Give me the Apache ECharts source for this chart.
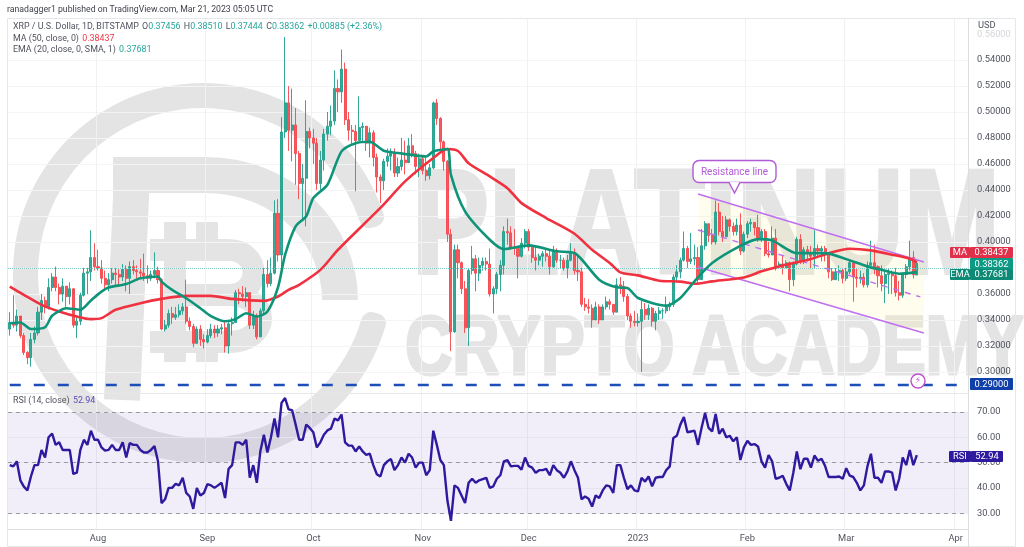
<!DOCTYPE html>
<html><head><meta charset="utf-8">
<style>html,body{margin:0;padding:0;background:#fff}#c{width:1024px;height:547px}</style>
<script src="https://cdn.jsdelivr.net/npm/echarts@6/dist/echarts.min.js"></script>
</head><body><div id="c"></div>
<script>
// Daily candles from 2022-07-07
const firstOpen = 0.333;
const closes = [
.338,.336,.343,.328,.315,.311,.325,.330,.346,.355,
.350,.365,.373,.365,.360,.366,.358,.364,.336,.339,
.359,.376,.377,.388,.381,.380,.372,.367,.371,.376,
.375,.373,.379,.372,.381,.378,.377,.376,.374,.372,
.375,.378,.371,.333,.336,.345,.342,.344,.347,.350,
.339,.335,.322,.333,.325,.323,.328,.333,.330,.333,
.334,.320,.337,.338,.361,.360,.358,.361,.336,.343,
.327,.347,.375,.368,.376,.422,.390,.4846,.507,.486,
.490,.468,.445,.449,.485,.480,.476,.445,.463,.483,
.489,.493,.518,.5155,.533,.494,.486,.485,.478,.488,
.489,.476,.484,.465,.450,.447,.462,.466,.468,.453,
.458,.463,.461,.474,.468,.458,.464,.455,.451,.457,
.507,.495,.477,.462,.406,.331,.394,.384,.364,.334,
.378,.387,.376,.382,.385,.383,.360,.364,.375,.382,
.408,.407,.396,.395,.389,.399,.408,.396,.388,.386,
.389,.391,.389,.381,.393,.386,.386,.380,.386,.392,
.378,.377,.352,.350,.349,.340,.350,.340,.350,.354,
.352,.346,.367,.366,.358,.343,.339,.338,.339,.348,
.344,.349,.339,.345,.347,.347,.350,.352,.373,.377,
.386,.395,.385,.387,.388,.371,.397,.414,.405,.400,
.423,.408,.404,.417,.412,.408,.413,.393,.406,.414,
.415,.411,.402,.408,.391,.390,.403,.381,.383,.380,
.384,.371,.383,.402,.385,.394,.391,.389,.395,.393,
.395,.390,.377,.371,.377,.378,.372,.377,.384,.373,
.372,.373,.367,.382,.384,.381,.374,.368,.375,.376,
.374,.361,.359,.375,.381,.388,.3748,.38362];
const highs = [
.346,.359,.348,.340,.330,.316,.330,.335,.350,.360,
.358,.372,.376,.381,.368,.372,.365,.369,.360,.342,
.361,.380,.380,.409,.399,.394,.386,.378,.376,.380,
.380,.379,.383,.382,.385,.386,.382,.387,.391,.382,
.378,.392,.381,.372,.340,.348,.350,.350,.352,.353,
.371,.342,.337,.335,.336,.329,.333,.337,.336,.336,
.337,.339,.339,.342,.363,.364,.366,.365,.360,.347,
.345,.349,.380,.386,.388,.432,.433,.496,.5577,.520,
.518,.503,.470,.460,.509,.488,.487,.480,.470,.487,
.500,.505,.532,.525,.548,.538,.500,.490,.490,.512,
.492,.488,.488,.486,.468,.452,.464,.472,.472,.472,
.465,.480,.478,.480,.483,.470,.468,.466,.465,.460,
.508,.510,.496,.478,.463,.410,.398,.398,.385,.370,
.380,.397,.390,.388,.388,.388,.395,.366,.377,.386,
.412,.418,.412,.410,.397,.403,.410,.410,.396,.396,
.391,.393,.394,.393,.397,.395,.390,.388,.390,.399,
.395,.390,.380,.357,.356,.352,.354,.352,.352,.358,
.356,.352,.372,.373,.370,.360,.345,.347,.345,.355,
.353,.352,.350,.347,.350,.349,.358,.354,.375,.382,
.388,.408,.397,.407,.398,.396,.410,.416,.414,.410,
.432,.430,.420,.420,.418,.415,.418,.422,.408,.416,
.418,.415,.421,.410,.410,.400,.412,.410,.385,.390,
.386,.385,.385,.404,.406,.396,.397,.397,.409,.398,
.397,.397,.392,.380,.380,.382,.380,.380,.386,.383,
.380,.378,.376,.385,.401,.398,.382,.382,.378,.380,
.378,.380,.370,.376,.383,.401,.393,.3851];
const lows = [
.328,.334,.331,.326,.313,.306,.304,.322,.328,.340,
.345,.348,.362,.362,.352,.354,.350,.352,.334,.326,
.336,.358,.360,.370,.378,.378,.368,.364,.362,.368,
.366,.366,.370,.362,.360,.375,.372,.372,.370,.368,
.370,.372,.368,.332,.331,.334,.337,.340,.342,.344,
.337,.332,.319,.322,.320,.318,.322,.326,.326,.327,
.329,.315,.314,.328,.340,.352,.354,.350,.333,.333,
.325,.327,.345,.365,.366,.375,.385,.380,.480,.470,
.462,.444,.433,.417,.412,.472,.460,.440,.440,.455,
.478,.482,.490,.500,.507,.490,.478,.475,.439,.478,
.477,.470,.465,.458,.438,.430,.440,.458,.455,.450,
.450,.455,.452,.462,.465,.452,.450,.452,.447,.448,
.456,.490,.470,.455,.400,.316,.330,.372,.360,.330,
.320,.375,.362,.370,.378,.378,.358,.345,.360,.362,
.375,.398,.394,.390,.372,.388,.395,.393,.384,.378,
.382,.381,.385,.375,.380,.384,.380,.378,.372,.385,
.375,.370,.350,.347,.345,.334,.340,.337,.340,.348,
.348,.344,.346,.360,.354,.340,.334,.335,.335,.300,
.340,.340,.335,.332,.340,.341,.345,.347,.350,.370,
.372,.385,.380,.383,.382,.368,.380,.394,.400,.398,
.398,.405,.400,.405,.408,.405,.405,.390,.392,.403,
.408,.405,.400,.400,.389,.388,.400,.378,.380,.375,
.380,.362,.366,.382,.383,.383,.385,.380,.380,.388,
.385,.385,.372,.370,.372,.370,.368,.370,.375,.354,
.365,.368,.365,.365,.380,.375,.365,.362,.353,.360,
.360,.358,.355,.357,.372,.378,.372,.37444];
const maDays = [0,4,9,14,19,23,26,30,37,43,50,57,63,72,76,79,82,88,93,105,112,120,124,127,130,136,141,145,152,160,165,170,173,178,184,190,194,199,208,213,218,227,232,238,244,250,255,257];
const maValues = [.3657,.3593,.3516,.3465,.3426,.3406,.3414,.3478,.3529,.3562,.3585,.3585,.3562,.3547,.358,.3631,.367,.3785,.394,.4262,.4466,.4646,.4715,.470,.4606,.4504,.4414,.4299,.4184,.4063,.394,.3838,.3766,.3743,.3702,.3695,.3679,.3697,.3727,.3774,.3812,.3868,.3914,.3948,.3935,.3902,.3871,.38437];
const emaDays = [0,3,6,10,12,16,20,23,26,28,33,37,42,43,46,50,54,57,61,64,67,70,73,76,78,81,84,86,90,94,98,102,106,110,118,120,124,125,129,136,140,147,155,160,167,172,175,178,186,190,194,199,207,212,216,223,231,237,243,247,252,257];
const emaValues = [.3375,.338,.333,.3344,.3432,.349,.3478,.355,.3618,.365,.3677,.372,.3734,.3695,.3631,.3567,.349,.343,.339,.3406,.3452,.3426,.3465,.365,.39,.412,.4198,.4338,.444,.4697,.476,.4771,.4702,.4684,.4658,.4697,.4715,.4516,.4235,.4017,.3945,.3974,.3928,.3915,.371,.3651,.3646,.3569,.351,.3569,.3697,.3838,.397,.4022,.4012,.3914,.3914,.3868,.3812,.3786,.3756,.37681];
const rsi = [
49,48.5,50.5,43,40.5,39,44.5,49,49,55,
52,60,61.5,57,58,55,55,55,45.5,46,
55,59,57,62.6,59,59,56,54.7,55,57,
55,55,58,52,57.7,57,57,55,54,54,
55,56.5,50.5,34,35.5,40,40,41.6,41,44,
38,36.6,31.7,40,37,38,41.5,41,40,41,
42,36,47.5,49,58,58,57,59,44,49,
42,54.5,61,54,60,67.4,60,73.6,75.5,71,
70.7,65,59,59,65,63.7,62,56,58,61,
62.7,63.4,67.4,66.7,69,58,56.7,56.7,54.4,56.4,
54.4,53,53.5,49,45.4,44.5,49,50.5,51.4,47,
49,52,50,53.5,52,48,50,50,45,47,
62.6,57,51,49,35,27,41,40,37,34,
42,43.6,42,43,43.5,44,40,40.6,43.6,45,
50.5,51,48.5,
48.7,48.7,47.2,52,48.7,48,46,47,47,47.5,
45,49,47,46,44,46.5,50.5,47,44,35.5,
36.6,35.7,32.6,37,36,39,41,40.6,38,49,
49,44,39.5,41,39,38.6,44,42.5,44.5,40.6,
44,44.3,44.3,47,48.5,59.7,60.6,65,68,62,
62.3,62.6,57,63.7,69.6,63.7,62.3,69.2,61.4,63.4,
60,60.6,58.4,60,51,56,58.6,57,57.3,56.4,
50.5,48,53,50.5,43.6,44,44.8,41.6,39,46,
54.4,47.4,51.5,51.5,48,52.8,50.7,51.5,48.7,44.3,
44.3,44.3,44.5,43.6,47.8,44.8,44.3,42,39,41,
48.5,53.5,44,44,42,46.5,46.5,46,39,43.6,
52,49,55,49,52.94];
const priceTicks = [.30,.32,.34,.36,.38,.40,.42,.44,.46,.48,.50,.52,.54];
const priceLabelTicks = [.30,.32,.34,.36,.40,.42,.44,.46,.48,.50,.52,.54];
const rsiTicks = [30,40,50,60,70];
const monthLabels = {'2022-08-01':'Aug','2022-09-01':'Sep','2022-10-01':'Oct','2022-11-01':'Nov','2022-12-01':'Dec','2023-01-01':'2023','2023-02-01':'Feb','2023-03-01':'Mar','2023-04-01':'Apr'};
const channelDays = [195,259];
const channelUpper = [.4369,.3846];
const channelLower = [.3808,.3300];
const channelMidDays = [195,258];
const channelMid = [.4092,.3577];
const supportLevel = 0.29;
const lastClose = 0.38362;

const dates = [];
for (let d = new Date(Date.UTC(2022,6,7)); d <= new Date(Date.UTC(2023,3,4)); d = new Date(+d + 864e5)) dates.push(d.toISOString().slice(0,10));
const candles = closes.map((c,i)=>[i===257?0.37456:(i?closes[i-1]:firstOpen),c,lows[i],highs[i]]);
const pairs=(xs,ys)=>xs.map((x,i)=>[x,ys[i]]);
const UP='#1fa08c',DN='#f4474c',GT='#50535e',WM='#e4e4e4',PUR='#b15ad6',RB='#2e1a9e',FONT='Roboto, "Noto Sans", sans-serif',FS=9.3;
const isMonth=(i)=>monthLabels[dates[i]]!==undefined;
const xBase=(g,show)=>({type:'category',gridIndex:g,data:dates,boundaryGap:true,
  axisLine:{show:show,lineStyle:{color:'#dcdde0'}},axisTick:{show:false},
  axisLabel:{show:show,interval:0,hideOverlap:false,margin:5,color:GT,fontSize:FS,fontFamily:FONT,formatter:v=>monthLabels[v]||''},
  splitLine:{show:true,interval:i=>isMonth(i),lineStyle:{color:'#f0f1f3',width:1}}});
const t=(x,y,s,st)=>({type:'text',x,y,z:50,silent:true,style:Object.assign({text:s,fill:GT,font:FS+'px '+FONT,textVerticalAlign:'middle'},st||{})});
const box=(x,y,w,h,c,s)=>({type:'group',z:60,children:[
  {type:'rect',z:60,shape:{x,y,width:w,height:h,r:1},style:{fill:c}},
  {type:'text',z:61,x:x+w/2,y:y+h/2+.5,style:{text:s,fill:'#fff',font:FS+'px '+FONT,textAlign:'center',textVerticalAlign:'middle'}}]});
const wm=(o)=>Object.assign({z:0,silent:true},o);
const wmStroke=(w)=>({fill:'none',stroke:WM,lineWidth:w});
const wl=(x1,y1,x2,y2,w)=>wm({type:'line',shape:{x1,y1,x2,y2},style:wmStroke(w)});
const wb=(x1,y1,cpx1,cpy1,cpx2,cpy2,x2,y2,w)=>wm({type:'bezierCurve',shape:{x1,y1,cpx1,cpy1,cpx2,cpy2,x2,y2},style:wmStroke(w)});
const rich=(s,vc)=>({textVerticalAlign:'middle',text:s,rich:{g:{fill:GT,font:'8.9px '+FONT},v:{fill:vc,font:'8.9px '+FONT}}});
const graphic=[
 wm({type:'sector',shape:{cx:203,cy:273,r:190,r0:165,startAngle:13*Math.PI/180,endAngle:345*Math.PI/180,clockwise:true,cornerRadius:10},style:{fill:WM}}),
 wl(113,175,205,175,36), wb(205,175,285,175,340,235,340,300,36), wl(132,175,122,400,36),
 wl(150,250,228,250,22), wb(228,250,262,250,262,295,228,295,22), wl(165,295,228,295,22),
 wb(228,295,272,295,272,342,228,342,22), wl(150,342,228,342,22),
 wl(175,222,175,362,22), wl(207,222,207,250,22), wl(207,342,207,362,22),
 wm({type:'text',x:412,y:232,scaleX:.78,style:{text:'PLATINUM',fill:WM,stroke:WM,lineWidth:4,font:'bold 148px "Liberation Sans", sans-serif',textVerticalAlign:'middle'}}),
 wm({type:'text',x:405,y:351,scaleX:.78,style:{text:'CRYPTO ACADEMY',fill:WM,stroke:WM,lineWidth:3,font:'bold 84px "Liberation Sans", sans-serif',textVerticalAlign:'middle'}}),
 // frame
 {type:'rect',z:1,silent:true,shape:{x:7.5,y:18.5,width:1008,height:528},style:{fill:'none',stroke:'#e6e7ea',lineWidth:1}},
 {type:'line',z:1,silent:true,shape:{x1:968.5,y1:18,x2:968.5,y2:547},style:{stroke:'#dcdde0'}},
 {type:'line',z:1,silent:true,shape:{x1:8,y1:393.5,x2:968,y2:393.5},style:{stroke:'#e6e7ea'}},
 // header
 t(7,10,'ranadagger1 published on TradingView.com, Mar 21, 2023 05:05 UTC',{font:'8.7px '+FONT,fill:'#3c3f48'}),
 {type:'text',x:13,y:27,z:50,silent:true,style:rich('{g|XRP / U.S. Dollar, 1D, BITSTAMP} {g|O}{v|0.37456} {g|H}{v|0.38510} {g|L}{v|0.37444} {g|C}{v|0.38362} {v|+0.00885 (+2.36%)}','#26a69a')},
 {type:'text',x:13,y:39,z:50,silent:true,style:rich('{g|MA (50, close, 0)} {v|0.38437}','#f23645')},
 {type:'text',x:13,y:50,z:50,silent:true,style:rich('{g|EMA (20, close, 0, SMA, 1)} {v|0.37681}','#26a69a')},
 {type:'text',x:13,y:401,z:50,silent:true,style:rich('{g|RSI (14, close)} {v|52.94}','#5b4bb5')},
 t(978,26,'USD'),
 t(977,35,'0.56000',{fill:'#d4d5d9'}),
 // callout
 {type:'rect',z:40,silent:true,shape:{x:693,y:160.5,width:83,height:22,r:6},style:{fill:'#fff',stroke:PUR,lineWidth:1.4}},
 {type:'polygon',z:41,silent:true,shape:{points:[[729.5,182],[734.5,193],[739.5,182]]},style:{fill:'#fff'}},
 {type:'polyline',z:41,silent:true,shape:{points:[[729,182.5],[734.5,193],[740,182.5]]},style:{fill:'none',stroke:PUR,lineWidth:1.4}},
 {type:'text',z:42,x:734.5,y:172,silent:true,style:{text:'Resistance line',fill:PUR,font:'10px '+FONT,textAlign:'center',textVerticalAlign:'middle'}},
 // lightning
 {type:'circle',z:40,silent:true,shape:{cx:918,cy:381,r:7},style:{fill:'#fff',stroke:'#c04fd0',lineWidth:1.4}},
 {type:'text',z:41,x:918,y:381,silent:true,style:{text:'⚡',fill:'#c04fd0',font:'9px "DejaVu Sans"',textAlign:'center',textVerticalAlign:'middle'}},
 // price tags
 box(950,247,20,11,'#e0304a','MA'),box(970,247,43,11,'#e0304a','0.38437'),
 box(970,258,43,11.5,'#0d9a84','0.38362'),
 box(950,269,20,11,'#0d8a76','EMA'),box(970,269,43,11,'#0d8a76','0.37681'),
 box(970,378,43,12,'#0f3fa8','0.29000'),
 box(949,451,22,11,RB,'RSI'),box(971,451,32,11,RB,'52.94')
];
const option={
 animation:false,backgroundColor:'#fff',graphic:graphic,
 grid:[{left:8,right:56,top:18,height:375,containLabel:false},{left:8,right:56,top:393,height:136,containLabel:false}],
 xAxis:[xBase(0,false),xBase(1,true)],
 yAxis:[
  {type:'value',gridIndex:0,position:'right',min:0.2838,max:0.5723,scale:true,
   axisLine:{show:false},axisTick:{show:false,customValues:priceTicks},
   axisLabel:{customValues:priceLabelTicks,color:GT,fontSize:FS,fontFamily:FONT,margin:9,formatter:v=>v.toFixed(5)},
   splitLine:{show:true,lineStyle:{color:'#f3f4f6'}}},
  {type:'value',gridIndex:1,position:'right',min:23.75,max:77.5,
   axisLine:{show:false},axisTick:{show:false,customValues:rsiTicks},
   axisLabel:{customValues:rsiTicks,color:GT,fontSize:FS,fontFamily:FONT,margin:9,formatter:v=>v.toFixed(2)},
   splitLine:{show:true,lineStyle:{color:'#f3f4f6'}}}],
 series:[
  {type:'custom',xAxisIndex:0,yAxisIndex:0,z:1,silent:true,data:[0],clip:true,
   renderItem:(p,api)=>({type:'polygon',shape:{points:[
      api.coord([channelDays[0],channelUpper[0]]),api.coord([channelDays[1],channelUpper[1]]),
      api.coord([channelDays[1],channelLower[1]]),api.coord([channelDays[0],channelLower[0]])]},
      style:{fill:'rgba(255,243,150,0.16)'}})},
  {type:'line',name:'Support',xAxisIndex:0,yAxisIndex:0,z:3,silent:true,showSymbol:false,
   data:[[0,supportLevel],[dates.length-1,supportLevel]],lineStyle:{color:'#1c4fb8',width:2.4,type:[11,13]}},
  {type:'candlestick',name:'XRP',xAxisIndex:0,yAxisIndex:0,z:4,barWidth:2.6,data:candles,
   itemStyle:{color:UP,color0:DN,borderColor:UP,borderColor0:DN,borderWidth:1,opacity:.9},
   markLine:{silent:true,symbol:'none',label:{show:false},lineStyle:{color:'#80cbc4',type:'dotted',width:1},data:[{yAxis:lastClose}]}},
  {type:'line',name:'Upper',xAxisIndex:0,yAxisIndex:0,z:5,silent:true,showSymbol:false,data:pairs(channelDays,channelUpper),lineStyle:{color:'#c06ff0',width:1.6}},
  {type:'line',name:'Lower',xAxisIndex:0,yAxisIndex:0,z:5,silent:true,showSymbol:false,data:pairs(channelDays,channelLower),lineStyle:{color:'#c06ff0',width:1.6}},
  {type:'line',name:'Mid',xAxisIndex:0,yAxisIndex:0,z:5,silent:true,showSymbol:false,data:pairs(channelMidDays,channelMid),lineStyle:{color:'#c06ff0',width:1.4,type:[6,6]}},
  {type:'line',name:'MA',xAxisIndex:0,yAxisIndex:0,z:6,silent:true,showSymbol:false,smooth:.25,data:pairs(maDays,maValues),lineStyle:{color:'#f0313f',width:2.6}},
  {type:'line',name:'EMA',xAxisIndex:0,yAxisIndex:0,z:6,silent:true,showSymbol:false,smooth:.25,data:pairs(emaDays,emaValues),lineStyle:{color:'#0e9478',width:2.6}},
  {type:'line',name:'RSI',xAxisIndex:1,yAxisIndex:1,z:6,silent:true,showSymbol:false,data:rsi,lineStyle:{color:RB,width:2.4},
   markArea:{silent:true,itemStyle:{color:'rgba(126,87,194,0.1)'},data:[[{yAxis:30},{yAxis:70}]]},
   markLine:{silent:true,symbol:'none',label:{show:false},lineStyle:{color:'#9a9ba0',type:[4,4],width:1},data:[{yAxis:70},{yAxis:50},{yAxis:30}]}}
 ]};
const chart=echarts.init(document.getElementById('c'),null,{renderer:'canvas'});
chart.setOption(option);
</script></body></html>
